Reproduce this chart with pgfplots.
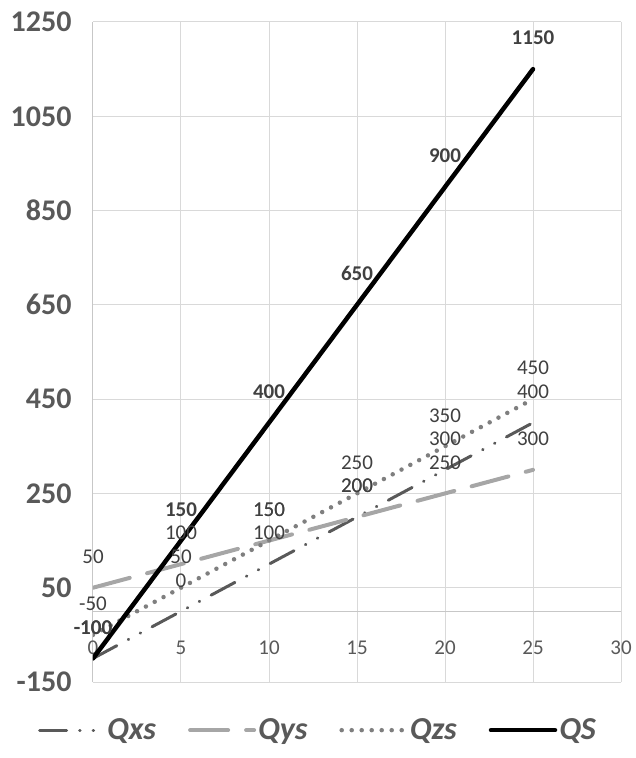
\documentclass[border=0pt]{standalone}
\usepackage{pgfplots}
\pgfplotsset{compat=1.18}
\usepackage{fontspec}
\setmainfont{Carlito}
\definecolor{txt}{HTML}{595959}
\definecolor{lbl}{HTML}{404040}
\definecolor{gridc}{HTML}{D9D9D9}
\definecolor{cxs}{HTML}{595959}
\definecolor{cys}{HTML}{A6A6A6}
\definecolor{czs}{HTML}{7F7F7F}

\begin{document}
\begin{tikzpicture}
\useasboundingbox (-93pt,-76pt) rectangle (542pt,682pt);
\begin{axis}[
  scale only axis, width=528pt, height=660pt,
  xmin=0, xmax=30, ymin=-150, ymax=1250,
  xtick={0,5,...,30}, ytick={-150,50,...,1250},
  grid=major, major grid style={gridc, line width=1pt},
  axis x line*=middle, axis y line*=left,
  axis line style={draw=gridc!80!gray, line width=1pt, -},
  hide obscured x ticks=false, hide obscured y ticks=false,
  major tick length=0pt,
  /pgf/number format/assume math mode=true,
  /pgf/number format/1000 sep={},
  xticklabel style={font=\fontsize{21}{21}\selectfont, text=txt, yshift=-26pt},
  yticklabel style={font=\fontsize{30}{30}\selectfont\bfseries, text=txt, xshift=-18pt},
  nodes near coords,
  every node near coord/.append style={anchor=center, yshift=31pt,
    font=\fontsize{21}{21}\selectfont, text=lbl},
  legend style={at={(0.426,-0.073)}, anchor=center, draw=none, fill=none,
    legend columns=4, font=\fontsize{32}{32}\selectfont\bfseries\itshape, text=txt,
    /tikz/every even column/.append style={column sep=30pt}},
  legend image code/.code={\draw[#1] (0pt,0pt) -- (64pt,0pt);},
]
\addplot[cxs, line width=3pt, line cap=round,
  dash pattern=on 27pt off 13pt on 0.5pt off 13pt on 0.5pt off 13pt]
  coordinates {(0,-100) (5,0) (10,100) (15,200) (20,300) (25,400)};
\addlegendentry{Qxs}
\addplot[cys, line width=4pt, line cap=round, dash pattern=on 38pt off 18pt]
  coordinates {(0,50) (5,100) (10,150) (15,200) (20,250) (25,300)};
\addlegendentry{Qys}
\addplot[czs, line width=4.5pt, line cap=round, dash pattern=on 0pt off 10pt]
  coordinates {(0,-50) (5,50) (10,150) (15,250) (20,350) (25,450)};
\addlegendentry{Qzs}
\addplot[black, line width=4.5pt, line cap=round,
  every node near coord/.append style={font=\fontsize{21}{21}\selectfont\bfseries}]
  coordinates {(0,-100) (5,150) (10,400) (15,650) (20,900) (25,1150)};
\addlegendentry{QS}
\end{axis}
\end{tikzpicture}
\end{document}
